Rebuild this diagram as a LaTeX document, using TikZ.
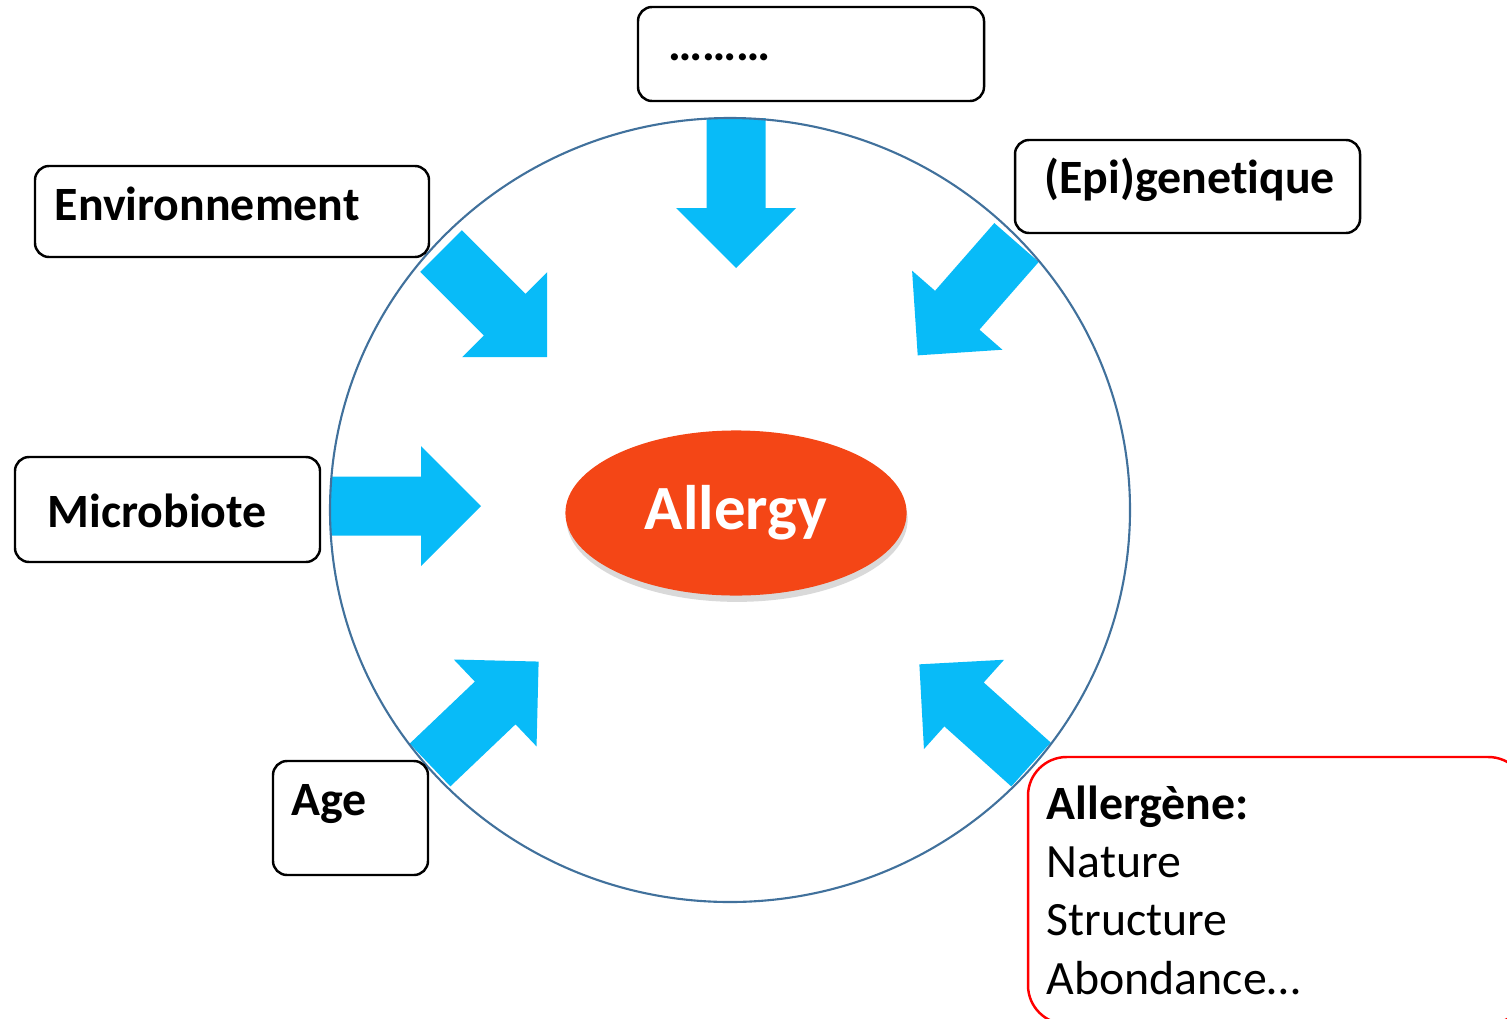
\documentclass[tikz,border=0pt]{standalone}
\usepackage{fontspec}
\setmainfont{Carlito}[Ligatures=NoCommon]
\usetikzlibrary{shapes.geometric,shadows}

\definecolor{arrowblue}{RGB}{8,187,248}
\definecolor{ringblue}{RGB}{65,113,156}
\definecolor{allergyred}{RGB}{244,70,22}
\definecolor{boxred}{RGB}{255,0,0}

\begin{document}
\begin{tikzpicture}[x=0.01cm, y=-0.01cm,
  labelbox/.style={draw=black, line width=0.7pt, rounded corners=4pt, fill=white},
  labeltext/.style={anchor=base west, inner sep=0pt, font=\fontsize{13.6}{16.5}\selectfont\bfseries},
  bigarrow/.style={fill=arrowblue}]
\useasboundingbox (0,0) rectangle (1507,1018);

% Block arrow: tail point and angle, drawn along x first
\def\fatarrow#1#2{\fill[bigarrow, shift={(#1)}, rotate=#2] (0,-29.5) -- (90,-29.5) -- (90,-60) -- (150,0) -- (90,60) -- (90,29.5) -- (0,29.5) -- cycle;}

% Arrows pointing to the centre
\fatarrow{736,118}{-90}
\fatarrow{441,251}{-45}
\fatarrow{1016.5,242.5}{228.8}
\fatarrow{331,506}{0}
\fatarrow{430,765}{43.6}
\fatarrow{1031,764.5}{138.1}

% Outer ring
\draw[ringblue, line width=0.6pt] (730,510) ellipse [x radius=400, y radius=392];

% Label boxes and their texts
\draw[labelbox] (638,7) rectangle (984,101);
\node[labeltext] (dots) at (668,60) {………};
\draw[labelbox] (35,166) rectangle (429,257);
\node[labeltext] (env) at (54,220) {Environnement};
\draw[labelbox] (1015,140) rectangle (1360,233);
\node[labeltext] (epi) at (1044,193) {(Epi)genetique};
\draw[labelbox] (15,457) rectangle (320,562);
\node[labeltext] (micro) at (47,527) {Microbiote};
\draw[labelbox] (273,761) rectangle (428,875);
\node[labeltext] (age) at (291,815) {Age};

% Allergen box, cut by the page edge
\draw[labelbox, draw=boxred, rounded corners=11pt] (1028,757) rectangle (1527,1024);
\node[labeltext, align=left, font=\fontsize{13.6}{16.5}\selectfont] (allergen) at (1046,994)
  {\textbf{Allergène:}\\Nature\\Structure\\Abondance…};

% Central ellipse
\node[ellipse, fill=allergyred, minimum width=3.41cm, minimum height=1.65cm, inner sep=0pt,
  text=white, font=\fontsize{17.9}{20}\selectfont\bfseries,
  drop shadow={shadow xshift=0.3pt, shadow yshift=-1.8pt, opacity=0.15, fill=black}] (allergy) at (736,513) {Allergy};
\end{tikzpicture}
\end{document}
